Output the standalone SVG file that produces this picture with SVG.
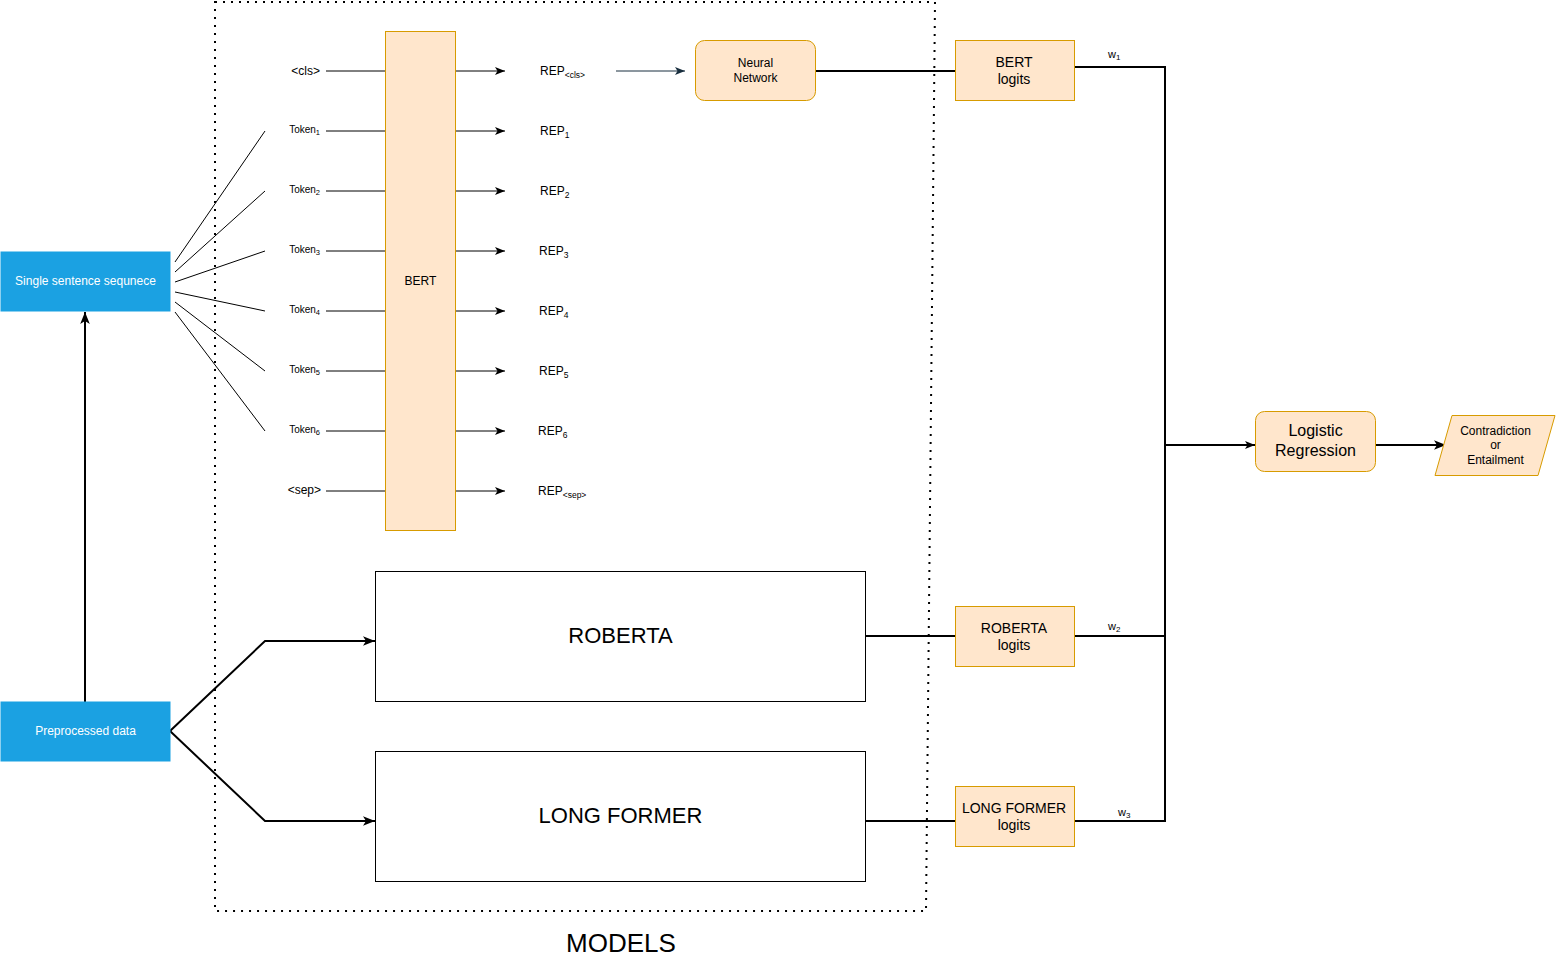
<svg xmlns="http://www.w3.org/2000/svg" width="1556" height="969" viewBox="0 0 1556 969">
<style>
text{font-family:"Liberation Sans",Arial,sans-serif;fill:#000}
.orange{fill:#ffe6cc;stroke:#d79b00;stroke-width:1}
.blue{fill:#1ba1e2;stroke:#1ba1e2;stroke-width:1}
.white{fill:#fff;stroke:#000;stroke-width:1}
.ln{fill:none;stroke:#000;stroke-width:1}
.ln2{fill:none;stroke:#000;stroke-width:2}
.tok{font-size:10px}
.sub{font-size:7.5px}
.rep{font-size:12px}
.repsub{font-size:8.5px}
.w{font-size:11px}
.wsub{font-size:8px}
.c{text-anchor:middle}
.e{text-anchor:end}
</style>
<defs>
<marker id="a" viewBox="0 0 10 8" markerWidth="10" markerHeight="8" refX="10" refY="4" orient="auto" markerUnits="userSpaceOnUse">
<path d="M0,0 L10,4 L0,8 L2.5,4 z" fill="#000"/>
</marker>
<marker id="ad" viewBox="0 0 10 8" markerWidth="10" markerHeight="8" refX="10" refY="4" orient="auto" markerUnits="userSpaceOnUse">
<path d="M0,0 L10,4 L0,8 L2.5,4 z" fill="#182e3e"/>
</marker>
<marker id="ab" viewBox="0 0 10 8" markerWidth="12" markerHeight="10" refX="10" refY="4" orient="auto" markerUnits="userSpaceOnUse">
<path d="M0,0 L10,4 L0,8 L2.5,4 z" fill="#000"/>
</marker>
</defs>
<rect width="1556" height="969" fill="#fff"/>

<g id="models-frame">
<path d="M215,2 L935,2 L926,911 L215,911 Z" fill="none" stroke="#000" stroke-width="2" stroke-dasharray="2 6"/>
<text x="621" y="952" class="c" font-size="26">MODELS</text>
</g>

<g id="connectors">
<line class="ln" x1="175" y1="262" x2="265" y2="131"/>
<line class="ln" x1="175" y1="272" x2="265" y2="191"/>
<line class="ln" x1="175" y1="282" x2="265" y2="251"/>
<line class="ln" x1="175" y1="292" x2="265" y2="311"/>
<line class="ln" x1="175" y1="302" x2="265" y2="371"/>
<line class="ln" x1="175" y1="312" x2="265" y2="431"/>
<line class="ln" x1="326" y1="71" x2="385" y2="71"/>
<line class="ln" x1="326" y1="131" x2="385" y2="131"/>
<line class="ln" x1="326" y1="191" x2="385" y2="191"/>
<line class="ln" x1="326" y1="251" x2="385" y2="251"/>
<line class="ln" x1="326" y1="311" x2="385" y2="311"/>
<line class="ln" x1="326" y1="371" x2="385" y2="371"/>
<line class="ln" x1="326" y1="431" x2="385" y2="431"/>
<line class="ln" x1="326" y1="491" x2="385" y2="491"/>
<line class="ln" x1="456" y1="71" x2="505" y2="71" marker-end="url(#a)"/>
<line class="ln" x1="456" y1="131" x2="505" y2="131" marker-end="url(#a)"/>
<line class="ln" x1="456" y1="191" x2="505" y2="191" marker-end="url(#a)"/>
<line class="ln" x1="456" y1="251" x2="505" y2="251" marker-end="url(#a)"/>
<line class="ln" x1="456" y1="311" x2="505" y2="311" marker-end="url(#a)"/>
<line class="ln" x1="456" y1="371" x2="505" y2="371" marker-end="url(#a)"/>
<line class="ln" x1="456" y1="431" x2="505" y2="431" marker-end="url(#a)"/>
<line class="ln" x1="456" y1="491" x2="505" y2="491" marker-end="url(#a)"/>
<line x1="616" y1="71" x2="685" y2="71" stroke="#182e3e" stroke-width="1" marker-end="url(#ad)"/>
<line class="ln2" x1="815" y1="71" x2="955" y2="71"/>
<line class="ln2" x1="85" y1="702" x2="85" y2="312" marker-end="url(#ab)"/>
<polyline class="ln2" points="170,731 265,641 375,641" marker-end="url(#ab)"/>
<polyline class="ln2" points="170,731 265,821 375,821" marker-end="url(#ab)"/>
<line class="ln2" x1="865" y1="636" x2="955" y2="636"/>
<line class="ln2" x1="865" y1="821" x2="955" y2="821"/>
<polyline class="ln2" points="1075,67 1165,67 1165,445"/>
<polyline class="ln2" points="1075,636 1165,636 1165,445"/>
<polyline class="ln2" points="1075,821 1165,821 1165,445"/>
<line class="ln2" x1="1165" y1="445" x2="1255" y2="445" marker-end="url(#a)"/>
<line class="ln2" x1="1376" y1="445" x2="1446" y2="445" marker-end="url(#ab)"/>
<text x="1108" y="58" class="w">w<tspan class="wsub" dy="2">1</tspan></text>
<text x="1108" y="630" class="w">w<tspan class="wsub" dy="2">2</tspan></text>
<text x="1118" y="816" class="w">w<tspan class="wsub" dy="2">3</tspan></text>
</g>

<g id="single-sentence">
<rect class="blue" x="1" y="252" width="169" height="59"/>
<text x="85.5" y="285" class="c" font-size="12" style="fill:#fff">Single sentence sequnece</text>
</g>

<g id="preprocessed">
<rect class="blue" x="1" y="702" width="169" height="59"/>
<text x="85.5" y="735" class="c" font-size="12" style="fill:#fff">Preprocessed data</text>
</g>

<g id="tokens">
<text x="320" y="75" class="e" font-size="12">&lt;cls&gt;</text>
<text x="320" y="133" class="e tok">Token<tspan class="sub" dy="2">1</tspan></text>
<text x="320" y="193" class="e tok">Token<tspan class="sub" dy="2">2</tspan></text>
<text x="320" y="253" class="e tok">Token<tspan class="sub" dy="2">3</tspan></text>
<text x="320" y="313" class="e tok">Token<tspan class="sub" dy="2">4</tspan></text>
<text x="320" y="373" class="e tok">Token<tspan class="sub" dy="2">5</tspan></text>
<text x="320" y="433" class="e tok">Token<tspan class="sub" dy="2">6</tspan></text>
<text x="321" y="494" class="e" font-size="12">&lt;sep&gt;</text>
</g>

<g id="bert">
<rect class="orange" x="385.5" y="31.5" width="70" height="499"/>
<text x="420.5" y="285" class="c" font-size="12">BERT</text>
</g>

<g id="reps">
<text x="540" y="75" class="rep">REP<tspan class="repsub" dy="3">&lt;cls&gt;</tspan></text>
<text x="540" y="135" class="rep">REP<tspan class="repsub" dy="3">1</tspan></text>
<text x="540" y="195" class="rep">REP<tspan class="repsub" dy="3">2</tspan></text>
<text x="539" y="255" class="rep">REP<tspan class="repsub" dy="3">3</tspan></text>
<text x="539" y="315" class="rep">REP<tspan class="repsub" dy="3">4</tspan></text>
<text x="539" y="375" class="rep">REP<tspan class="repsub" dy="3">5</tspan></text>
<text x="538" y="435" class="rep">REP<tspan class="repsub" dy="3">6</tspan></text>
<text x="538" y="495" class="rep">REP<tspan class="repsub" dy="3">&lt;sep&gt;</tspan></text>
</g>

<g id="neural-network">
<rect class="orange" x="695.5" y="40.5" width="120" height="60" rx="9"/>
<text x="755.5" y="67" class="c" font-size="12">Neural</text>
<text x="755.5" y="82" class="c" font-size="12">Network</text>
</g>

<g id="bert-logits">
<rect class="orange" x="955.5" y="40.5" width="119" height="60"/>
<text x="1014" y="67" class="c" font-size="14">BERT</text>
<text x="1014" y="84" class="c" font-size="14">logits</text>
</g>

<g id="roberta">
<rect class="white" x="375.5" y="571.5" width="490" height="130"/>
<text x="620.5" y="643" class="c" font-size="22">ROBERTA</text>
</g>

<g id="longformer">
<rect class="white" x="375.5" y="751.5" width="490" height="130"/>
<text x="620.5" y="823" class="c" font-size="22">LONG FORMER</text>
</g>

<g id="roberta-logits">
<rect class="orange" x="955.5" y="606.5" width="119" height="60"/>
<text x="1014" y="633" class="c" font-size="14">ROBERTA</text>
<text x="1014" y="650" class="c" font-size="14">logits</text>
</g>

<g id="longformer-logits">
<rect class="orange" x="955.5" y="786.5" width="119" height="60"/>
<text x="1014" y="813" class="c" font-size="14">LONG FORMER</text>
<text x="1014" y="830" class="c" font-size="14">logits</text>
</g>

<g id="logistic-regression">
<rect class="orange" x="1255.5" y="411.5" width="120" height="60" rx="9"/>
<text x="1315.5" y="436" class="c" font-size="16">Logistic</text>
<text x="1315.5" y="456" class="c" font-size="16">Regression</text>
</g>

<g id="output">
<polygon class="orange" points="1452,415.5 1555,415.5 1538,475.5 1435,475.5"/>
<text x="1495.5" y="435" class="c" font-size="12">Contradiction</text>
<text x="1495.5" y="449" class="c" font-size="12">or</text>
<text x="1495.5" y="464" class="c" font-size="12">Entailment</text>
</g>
</svg>
